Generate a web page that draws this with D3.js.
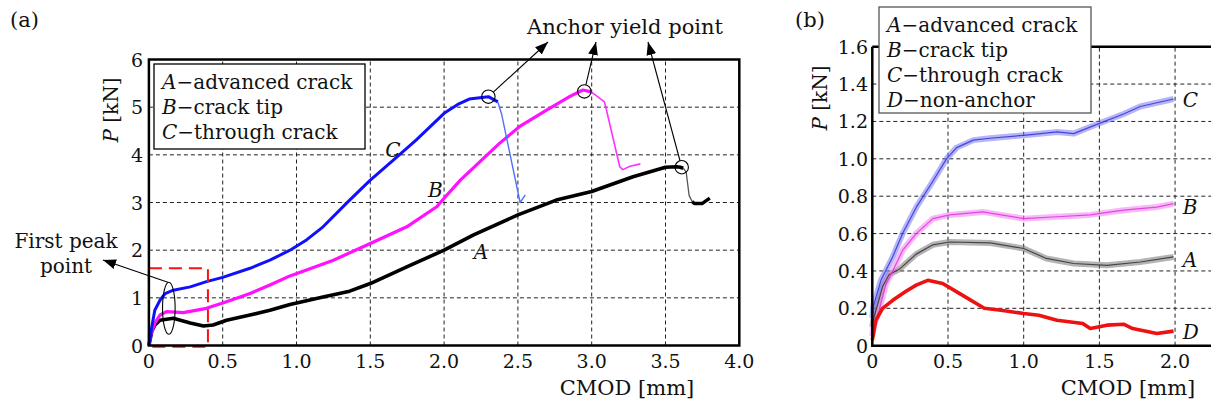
<!DOCTYPE html>
<html>
<head>
<meta charset="utf-8">
<script src="https://cdn.jsdelivr.net/npm/d3@7"></script>
<style>
  body { margin: 0; background: #fff; }
  text { font-family: "DejaVu Serif", serif; fill: #111; }
</style>
</head>
<body>
<div id="chart"></div>
<script>
// ---- panel (a) data: CMOD [mm] vs P [kN]
const aTicksX = [0, 0.5, 1.0, 1.5, 2.0, 2.5, 3.0, 3.5, 4.0];
const aTicksY = [0, 1, 2, 3, 4, 5, 6];

const cmodC = [0, 0.01, 0.02, 0.04, 0.075, 0.11, 0.165, 0.28, 0.39, 0.5, 0.685, 0.82, 0.956, 1.07, 1.18, 1.36, 1.5, 1.656, 1.81, 2.0, 2.1, 2.17, 2.3, 2.364];
const pC    = [0, 0.18, 0.4, 0.74, 0.95, 1.09, 1.16, 1.23, 1.34, 1.43, 1.62, 1.79, 2.0, 2.22, 2.49, 3.05, 3.47, 3.89, 4.31, 4.87, 5.07, 5.17, 5.22, 5.11];
const cmodCdrop = [2.364, 2.39, 2.515, 2.55];
const pCdrop    = [5.11, 4.85, 3.0, 3.16];

const cmodB = [0, 0.01, 0.02, 0.041, 0.075, 0.12, 0.233, 0.39, 0.526, 0.685, 0.82, 0.956, 1.25, 1.5, 1.747, 1.95, 2.0, 2.11, 2.375, 2.51, 2.7, 2.85, 2.94, 2.996];
const pB    = [0, 0.18, 0.3, 0.47, 0.64, 0.71, 0.69, 0.78, 0.92, 1.09, 1.27, 1.46, 1.79, 2.14, 2.49, 2.91, 3.09, 3.47, 4.24, 4.59, 4.95, 5.22, 5.36, 5.32];
const cmodBdrop = [2.996, 3.04, 3.086, 3.10, 3.19, 3.21, 3.26, 3.33];
const pBdrop    = [5.32, 5.22, 5.11, 4.94, 3.75, 3.69, 3.76, 3.81];

const cmodA = [0, 0.01, 0.02, 0.041, 0.075, 0.165, 0.28, 0.37, 0.435, 0.526, 0.685, 0.82, 0.956, 1.18, 1.36, 1.5, 1.747, 2.0, 2.2, 2.5, 2.76, 3.0, 3.28, 3.5, 3.575, 3.6, 3.62];
const pA    = [0, 0.15, 0.3, 0.43, 0.53, 0.57, 0.47, 0.41, 0.43, 0.53, 0.64, 0.74, 0.86, 1.02, 1.14, 1.3, 1.65, 2.0, 2.32, 2.74, 3.05, 3.23, 3.54, 3.74, 3.75, 3.74, 3.72];
const cmodAdrop = [3.62, 3.64, 3.66, 3.68];
const pAdrop    = [3.72, 3.64, 3.15, 3.02];
const cmodAtail = [3.68, 3.695, 3.75, 3.8];
const pAtail    = [3.02, 2.98, 2.98, 3.09];

// ---- panel (b) data
const bTicksX = [0, 0.5, 1.0, 1.5, 2.0];
const bTicksY = [0, 0.2, 0.4, 0.6, 0.8, 1.0, 1.2, 1.4, 1.6];

const bCmodC = [0, 0.007, 0.057, 0.135, 0.2, 0.29, 0.4, 0.49, 0.557, 0.667, 0.777, 1.0, 1.22, 1.33, 1.5, 1.66, 1.77, 1.88, 1.99];
const bPC    = [0.15, 0.21, 0.35, 0.476, 0.6, 0.74, 0.88, 1.0, 1.06, 1.10, 1.11, 1.126, 1.144, 1.135, 1.19, 1.24, 1.28, 1.30, 1.32];
const bCmodB = [0, 0.007, 0.046, 0.09, 0.135, 0.2, 0.29, 0.4, 0.51, 0.73, 1.0, 1.22, 1.44, 1.66, 1.88, 1.99];
const bPB    = [0.05, 0.1, 0.19, 0.33, 0.40, 0.51, 0.60, 0.68, 0.70, 0.716, 0.68, 0.69, 0.70, 0.725, 0.742, 0.76];
const bCmodA = [0, 0.007, 0.068, 0.11, 0.18, 0.29, 0.4, 0.51, 0.78, 1.0, 1.15, 1.33, 1.55, 1.77, 1.99];
const bPA    = [0.1, 0.14, 0.315, 0.38, 0.41, 0.49, 0.54, 0.555, 0.55, 0.52, 0.467, 0.44, 0.43, 0.448, 0.475];
const bCmodD = [0, 0.024, 0.068, 0.135, 0.22, 0.29, 0.366, 0.465, 0.575, 0.74, 0.85, 1.0, 1.1, 1.22, 1.39, 1.44, 1.55, 1.66, 1.72, 1.88, 1.99];
const bPD    = [0.03, 0.137, 0.2, 0.243, 0.29, 0.324, 0.35, 0.333, 0.28, 0.2, 0.19, 0.172, 0.163, 0.136, 0.119, 0.092, 0.11, 0.115, 0.092, 0.065, 0.078];

const legendA = [["A", "advanced crack"], ["B", "crack tip"], ["C", "through crack"]];
const legendB = [["A", "advanced crack"], ["B", "crack tip"], ["C", "through crack"], ["D", "non-anchor"]];

const zip = (xs, ys) => xs.map((x, i) => [x, ys[i]]);

const svg = d3.select("#chart").append("svg")
  .attr("width", 1211).attr("height", 405);

svg.append("rect").attr("width", 1211).attr("height", 405).attr("fill", "#fff");

const defs = svg.append("defs");
defs.append("marker")
  .attr("id", "arrow")
  .attr("viewBox", "0 0 10 10")
  .attr("refX", 10).attr("refY", 5)
  .attr("markerWidth", 13).attr("markerHeight", 13)
  .attr("markerUnits", "userSpaceOnUse")
  .attr("orient", "auto")
  .append("path").attr("d", "M0,1.2 L10,5 L0,8.8 Z").attr("fill", "#000");

// ================= panel (a)
const xa = d3.scaleLinear().domain([0, 4]).range([148.9, 739.3]);
const ya = d3.scaleLinear().domain([0, 6]).range([345.5, 59.5]);
const la = d3.line().x(d => xa(d[0])).y(d => ya(d[1]));

const ga = svg.append("g");

// grid
ga.selectAll(".gx").data(aTicksX.slice(1, -1)).enter().append("line")
  .attr("x1", d => xa(d)).attr("x2", d => xa(d))
  .attr("y1", ya(0)).attr("y2", ya(6))
  .attr("stroke", "#222").attr("stroke-width", 1).attr("stroke-dasharray", "4,3");
ga.selectAll(".gy").data(aTicksY.slice(1, -1)).enter().append("line")
  .attr("x1", xa(0)).attr("x2", xa(4))
  .attr("y1", d => ya(d)).attr("y2", d => ya(d))
  .attr("stroke", "#222").attr("stroke-width", 1).attr("stroke-dasharray", "4,3");

// curves
const curvesA = [
  { pts: zip(cmodA, pA), color: "#000", w: 3.6 },
  { pts: zip(cmodAdrop, pAdrop), color: "#555", w: 1.3 },
  { pts: zip(cmodAtail, pAtail), color: "#000", w: 3.4 },
  { pts: zip(cmodB, pB), color: "#ff10ff", w: 3.2 },
  { pts: zip(cmodBdrop, pBdrop), color: "#ff30ff", w: 1.6 },
  { pts: zip(cmodC, pC), color: "#1010ff", w: 3 },
  { pts: zip(cmodCdrop, pCdrop), color: "#5070ff", w: 1.4 }
];
ga.selectAll(".curve").data(curvesA).enter().append("path")
  .attr("d", d => la(d.pts))
  .attr("fill", "none")
  .attr("stroke", d => d.color)
  .attr("stroke-width", d => d.w)
  .attr("stroke-linejoin", "round");

// red dashed box around first peak
ga.append("rect")
  .attr("x", xa(0)).attr("y", ya(1.62))
  .attr("width", xa(0.4) - xa(0)).attr("height", ya(-0.025) - ya(1.62))
  .attr("fill", "none").attr("stroke", "#ff1010").attr("stroke-width", 2)
  .attr("stroke-dasharray", "13,7");

// frame
ga.append("rect")
  .attr("x", xa(0)).attr("y", ya(6))
  .attr("width", xa(4) - xa(0)).attr("height", ya(0) - ya(6))
  .attr("fill", "none").attr("stroke", "#000").attr("stroke-width", 2.5);

// first peak ellipse + arrow
const peakC = [0.135, 0.78];
ga.append("ellipse")
  .attr("cx", xa(peakC[0])).attr("cy", ya(peakC[1]))
  .attr("rx", 6.3).attr("ry", 26)
  .attr("fill", "none").attr("stroke", "#000").attr("stroke-width", 1.1);
ga.append("line")
  .attr("x1", xa(peakC[0]) - 1).attr("y1", ya(peakC[1]) - 26)
  .attr("x2", 103).attr("y2", 260)
  .attr("stroke", "#000").attr("stroke-width", 1.1)
  .attr("marker-end", "url(#arrow)");
ga.append("text").attr("x", 66).attr("y", 248).attr("text-anchor", "middle")
  .attr("font-size", 20).text("First peak");
ga.append("text").attr("x", 66).attr("y", 273).attr("text-anchor", "middle")
  .attr("font-size", 20).text("point");

// anchor yield circles + arrows
const yieldPts = [
  { p: [2.3, 5.22], tip: [548, 42] },
  { p: [2.95, 5.33], tip: [596, 42] },
  { p: [3.61, 3.74], tip: [648, 42] }
];
yieldPts.forEach(d => {
  const cx = xa(d.p[0]), cy = ya(d.p[1]), r = 6.7;
  ga.append("circle").attr("cx", cx).attr("cy", cy).attr("r", r)
    .attr("fill", "none").attr("stroke", "#000").attr("stroke-width", 1.1);
  const dx = d.tip[0] - cx, dy = d.tip[1] - cy, len = Math.hypot(dx, dy);
  ga.append("line")
    .attr("x1", cx + dx / len * r).attr("y1", cy + dy / len * r)
    .attr("x2", d.tip[0]).attr("y2", d.tip[1])
    .attr("stroke", "#000").attr("stroke-width", 1.1)
    .attr("marker-end", "url(#arrow)");
});
ga.append("text").attr("x", 625).attr("y", 34).attr("text-anchor", "middle")
  .attr("font-size", 21).text("Anchor yield point");

// curve labels
const labelsA = [["C", 1.654, 3.95], ["B", 1.94, 3.12], ["A", 2.25, 1.81]];
ga.selectAll(".clab").data(labelsA).enter().append("text")
  .attr("x", d => xa(d[1])).attr("y", d => ya(d[2]))
  .attr("text-anchor", "middle").attr("font-style", "italic")
  .attr("font-size", 20).text(d => d[0]);

// legend (a)
ga.append("rect").attr("x", 154).attr("y", 64).attr("width", 211).attr("height", 85)
  .attr("fill", "#fff").attr("stroke", "#000").attr("stroke-width", 1.3);
legendA.forEach((d, i) => {
  const t = ga.append("text").attr("x", 162).attr("y", 89 + i * 25).attr("font-size", 20);
  t.append("tspan").attr("font-style", "italic").text(d[0]);
  t.append("tspan").text("\u2212" + d[1]);
});

// ticks (a)
ga.selectAll(".tx").data(aTicksX).enter().append("text")
  .attr("x", d => xa(d)).attr("y", 368).attr("text-anchor", "middle")
  .attr("font-size", 19).text(d => d === 0 ? "0" : d.toFixed(1));
ga.selectAll(".ty").data(aTicksY).enter().append("text")
  .attr("x", 143).attr("y", d => ya(d) + 7).attr("text-anchor", "end")
  .attr("font-size", 19).text(d => d);

// axis labels (a)
const ylabA = ga.append("text").attr("transform", "translate(118,110) rotate(-90)")
  .attr("text-anchor", "middle").attr("font-size", 20);
ylabA.append("tspan").attr("font-style", "italic").text("P");
ylabA.append("tspan").text(" [kN]");
ga.append("text").attr("x", 627).attr("y", 395).attr("text-anchor", "middle")
  .attr("font-size", 21).text("CMOD [mm]");
ga.append("text").attr("x", 10).attr("y", 27).attr("font-size", 21).text("(a)");

// ================= panel (b)
const xb = d3.scaleLinear().domain([0, 2.24]).range([872.3, 1211.4]);
const yb = d3.scaleLinear().domain([0, 1.6]).range([345.7, 46.7]);
const lb = d3.line().x(d => xb(d[0])).y(d => yb(d[1]));

const gb = svg.append("g");

gb.selectAll(".gx").data(bTicksX.slice(1)).enter().append("line")
  .attr("x1", d => xb(d)).attr("x2", d => xb(d))
  .attr("y1", yb(0)).attr("y2", yb(1.6))
  .attr("stroke", "#222").attr("stroke-width", 1).attr("stroke-dasharray", "4,3");
gb.selectAll(".gy").data(bTicksY.slice(1, -1)).enter().append("line")
  .attr("x1", xb(0)).attr("x2", 1211)
  .attr("y1", d => yb(d)).attr("y2", d => yb(d))
  .attr("stroke", "#222").attr("stroke-width", 1).attr("stroke-dasharray", "4,3");

const curvesB = [
  { pts: zip(bCmodA, bPA), color: "#333", halo: "#777", w: 1.2, hw: 6 },
  { pts: zip(bCmodB, bPB), color: "#e030e0", halo: "#f080f0", w: 1.2, hw: 6 },
  { pts: zip(bCmodC, bPC), color: "#3030e0", halo: "#7878f0", w: 1.2, hw: 6 }
];
gb.selectAll(".halo").data(curvesB).enter().append("path")
  .attr("d", d => lb(d.pts)).attr("fill", "none")
  .attr("stroke", d => d.halo).attr("stroke-opacity", 0.55)
  .attr("stroke-width", d => d.hw).attr("stroke-linejoin", "round");
gb.selectAll(".curve").data(curvesB).enter().append("path")
  .attr("d", d => lb(d.pts)).attr("fill", "none")
  .attr("stroke", d => d.color).attr("stroke-opacity", 0.85)
  .attr("stroke-width", d => d.w).attr("stroke-linejoin", "round");
gb.append("path").attr("d", lb(zip(bCmodD, bPD))).attr("fill", "none")
  .attr("stroke", "#ee1111").attr("stroke-width", 3.6).attr("stroke-linejoin", "round");

// frame (b)
gb.append("path")
  .attr("d", `M${xb(0)},${yb(1.6)} L${xb(0)},${yb(0)} L1211,${yb(0)} M${xb(0)},${yb(1.6)} L1211,${yb(1.6)}`)
  .attr("fill", "none").attr("stroke", "#000").attr("stroke-width", 2.5);

const labelsB = [["C", 2.05, 1.277], ["B", 2.05, 0.705], ["A", 2.05, 0.42], ["D", 2.05, 0.036]];
gb.selectAll(".clab").data(labelsB).enter().append("text")
  .attr("x", d => xb(d[1])).attr("y", d => yb(d[2]))
  .attr("font-style", "italic").attr("font-size", 20).text(d => d[0]);

gb.append("rect").attr("x", 879).attr("y", 7).attr("width", 212).attr("height", 106)
  .attr("fill", "#fff").attr("stroke", "#555").attr("stroke-width", 1.3);
legendB.forEach((d, i) => {
  const t = gb.append("text").attr("x", 887).attr("y", 32 + i * 25).attr("font-size", 20);
  t.append("tspan").attr("font-style", "italic").text(d[0]);
  t.append("tspan").text("\u2212" + d[1]);
});

gb.selectAll(".tx").data(bTicksX).enter().append("text")
  .attr("x", d => xb(d)).attr("y", 368).attr("text-anchor", "middle")
  .attr("font-size", 19).text(d => d === 0 ? "0" : d.toFixed(1));
gb.selectAll(".ty").data(bTicksY).enter().append("text")
  .attr("x", 868).attr("y", d => yb(d) + 7).attr("text-anchor", "end")
  .attr("font-size", 19).text(d => d === 0 ? "0" : d.toFixed(1));

const ylabB = gb.append("text").attr("transform", "translate(827,98) rotate(-90)")
  .attr("text-anchor", "middle").attr("font-size", 20);
ylabB.append("tspan").attr("font-style", "italic").text("P");
ylabB.append("tspan").text(" [kN]");
gb.append("text").attr("x", 1128).attr("y", 395).attr("text-anchor", "middle")
  .attr("font-size", 21).text("CMOD [mm]");
gb.append("text").attr("x", 795).attr("y", 27).attr("font-size", 21).text("(b)");
</script>
</body>
</html>
